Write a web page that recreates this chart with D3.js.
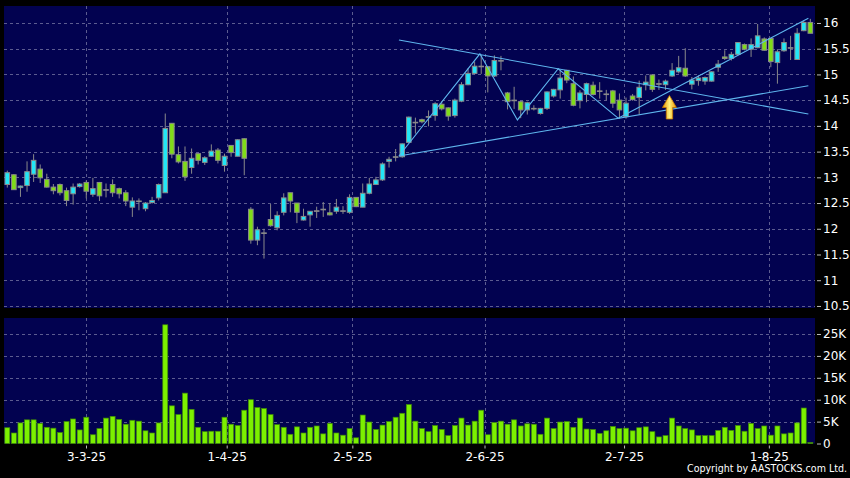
<!DOCTYPE html>
<html><head><meta charset="utf-8">
<script src="https://cdn.jsdelivr.net/npm/d3@7"></script>
<style>body{margin:0;background:#000;} svg{display:block;}</style>
</head><body>
<svg id="c" width="850" height="478"></svg>
<script>
// ---- data (daily candles, oldest first) ----
const openP  = [12.86,13.05,12.80,12.84,13.06,13.16,12.96,12.81,12.86,12.74,12.68,12.82,12.90,12.67,12.90,12.76,12.86,12.78,12.70,12.42,12.54,12.39,12.51,12.60,12.70,14.05,13.44,13.31,13.19,13.46,13.29,13.41,13.53,13.23,13.62,13.41,13.75,12.38,11.78,11.92,12.18,12.02,12.32,12.70,12.50,12.17,12.27,12.35,12.38,12.31,12.34,12.35,12.32,12.61,12.42,12.69,12.86,12.95,13.31,13.40,13.40,13.68,14.07,14.12,14.18,14.20,14.42,14.35,14.20,14.48,14.80,15.02,15.16,15.15,14.97,15.27,14.64,14.50,14.47,14.31,14.34,14.24,14.34,14.58,14.70,15.08,14.82,14.49,14.61,14.79,14.68,14.62,14.68,14.50,14.18,14.58,14.55,14.80,14.99,14.82,14.80,14.97,15.05,15.12,14.81,14.88,14.87,14.87,15.14,15.34,15.31,15.39,15.58,15.49,15.52,15.69,15.70,15.23,15.46,15.52,15.29,15.85,16.01];
const highP  = [13.13,13.06,12.84,13.31,13.45,13.25,13.07,12.87,12.88,12.80,12.88,12.89,12.94,12.99,12.91,12.88,12.96,12.80,12.75,12.61,12.59,12.52,12.62,12.88,14.24,14.05,13.60,13.60,13.56,13.46,13.41,13.64,13.57,13.46,13.62,13.74,13.76,12.42,12.04,12.00,12.48,12.34,12.69,12.70,12.50,12.39,12.34,12.43,12.52,12.50,12.58,12.44,12.67,12.61,12.88,12.99,13.01,13.29,13.40,13.55,13.66,14.18,14.16,14.14,14.30,14.46,14.48,14.36,14.53,14.85,15.12,15.25,15.38,15.15,15.37,15.36,14.66,14.76,14.48,14.47,14.40,14.35,14.67,14.72,15.09,15.09,14.96,14.69,14.84,14.86,14.85,14.70,14.70,14.63,14.55,14.62,14.88,14.98,15.00,14.90,14.90,15.22,15.36,15.51,14.95,14.98,14.96,15.06,15.28,15.47,15.44,15.63,15.60,15.70,15.98,15.72,15.70,15.49,15.70,15.75,15.90,16.05,16.08];
const lowP   = [12.80,12.76,12.62,12.72,12.91,12.89,12.80,12.67,12.65,12.44,12.47,12.80,12.59,12.62,12.54,12.61,12.62,12.59,12.44,12.23,12.36,12.34,12.49,12.55,12.70,13.37,13.27,12.93,13.07,13.25,13.24,13.40,13.27,13.11,13.40,13.41,13.04,11.71,11.68,11.42,12.04,11.97,12.26,12.32,12.11,12.16,12.04,12.21,12.23,12.26,12.29,12.29,12.29,12.42,12.42,12.67,12.85,12.93,13.19,13.31,13.38,13.67,13.85,14.05,13.99,14.10,14.30,14.10,14.16,14.46,14.79,15.00,15.01,14.65,14.95,15.08,14.32,14.33,14.15,14.22,14.30,14.22,14.31,14.55,14.53,14.83,14.38,14.34,14.46,14.59,14.53,14.50,14.35,14.14,14.14,14.49,14.22,14.69,14.66,14.70,14.70,14.95,15.02,14.95,14.71,14.78,14.80,14.86,15.05,15.28,15.27,15.37,15.47,15.34,15.51,15.46,15.14,14.82,15.44,15.28,15.29,15.84,15.80];
const closeP = [13.09,12.76,12.83,13.11,13.33,12.99,12.81,12.74,12.70,12.55,12.81,12.87,12.73,12.78,12.64,12.76,12.70,12.68,12.54,12.54,12.54,12.50,12.55,12.86,13.95,13.45,13.30,13.01,13.37,13.33,13.38,13.51,13.33,13.41,13.48,13.73,13.37,11.78,11.98,11.92,12.06,12.26,12.60,12.54,12.32,12.24,12.34,12.35,12.38,12.27,12.42,12.35,12.61,12.43,12.69,12.87,12.95,13.26,13.35,13.40,13.65,14.17,14.07,14.08,14.18,14.43,14.33,14.19,14.50,14.80,15.02,15.16,15.16,14.97,15.27,15.27,14.47,14.50,14.31,14.45,14.34,14.34,14.66,14.71,14.93,14.89,14.40,14.64,14.82,14.61,14.68,14.62,14.44,14.31,14.44,14.51,14.75,14.85,14.71,14.82,14.87,15.08,15.13,14.97,14.89,14.93,14.94,15.05,15.20,15.31,15.39,15.62,15.49,15.58,15.75,15.47,15.25,15.44,15.62,15.52,15.80,16.01,15.80];
// volume in thousands of shares
const volumeK = [3.6,2.4,4.7,5.4,5.4,4.6,3.7,3.5,2.5,5.0,5.6,3.1,6.0,2.0,3.4,5.8,6.2,5.5,4.4,5.3,5.1,2.9,2.4,4.7,27.1,8.6,6.6,11.5,7.8,3.7,2.7,2.8,2.8,6.0,4.4,4.1,7.6,10.0,8.2,8.0,6.6,4.3,3.7,2.1,3.8,
  2.4,3.7,4.0,2.2,4.6,2.4,1.9,3.4,1.3,6.5,4.9,3.2,4.2,5.0,6.0,6.9,8.9,5.1,3.4,2.7,4.1,3.2,1.8,4.1,5.8,4.2,5.1,7.6,2.0,4.8,5.1,4.4,5.4,4.0,4.5,4.4,2.1,5.8,3.4,4.9,5.0,3.7,5.8,3.3,3.2,2.3,
  2.9,3.9,3.4,3.5,2.9,3.6,3.8,2.7,1.5,1.8,5.8,4.0,3.4,3.1,1.8,1.8,1.8,3.0,3.7,3.0,4.1,2.8,4.6,3.4,4.0,1.9,4.0,2.2,2.4,4.7,8.1,0.2];
// date axis: labels and their position in bar-index units
const dateLabels = ["3-3-25","1-4-25","2-5-25","2-6-25","2-7-25","1-8-25"];
const datePos    = [11.96, 33.33, 52.42, 72.5, 93.7, 115.7];
const priceTicks = [10.5,11,11.5,12,12.5,13,13.5,14,14.5,15,15.5,16];
const volTicks   = [0,5,10,15,20,25];
// drawn trend lines: [bar index, price] pairs
const trendUpper  = [[59.5,15.67],[121.7,14.23]];
const trendLower  = [[59.5,13.415],[121.7,14.78]];
const trendZigzag = [[59.5,13.415],[71.8,15.40],[77.5,14.115],[83.7,15.11],[92.8,14.15]];
const trendRising = [[92.8,14.15],[121.7,16.09]];
const arrowMark = {index:100.6, price:14.59};

// ---- layout ----
const W=850,H=478;
const left=4,right=815,pTop=6,pBot=308,vTop=318,vBot=443.5;
const navy="#020250", grid="#5c5c90";
const FONT="DejaVu Sans, Verdana, sans-serif";
const n=openP.length;
const svg=d3.select('#c');
svg.append('rect').attr('width',W).attr('height',H).attr('fill','#000');

const x=d3.scaleLinear().domain([-0.5,n-0.29]).range([left,right]);
const y=d3.scaleLinear().domain([10.46,16.33]).range([pBot,pTop]);
const yv=d3.scaleLinear().domain([0,28.65]).range([vBot,vTop]);

svg.append('rect').attr('x',left).attr('y',pTop).attr('width',right-left).attr('height',pBot-pTop).attr('fill',navy);
svg.append('rect').attr('x',left).attr('y',vTop).attr('width',right-left).attr('height',vBot-vTop).attr('fill',navy);

const gg=svg.append('g').attr('stroke',grid).attr('stroke-width',1).attr('stroke-dasharray','3,3').attr('fill','none');
priceTicks.forEach(p=>{const yy=Math.round(y(p))+0.5;gg.append('line').attr('x1',left).attr('x2',right).attr('y1',yy).attr('y2',yy);});
volTicks.filter(v=>v>0).forEach(v=>{const yy=Math.round(yv(v))+0.5;gg.append('line').attr('x1',left).attr('x2',right).attr('y1',yy).attr('y2',yy);});
datePos.forEach(d=>{const xx=Math.round(x(d))+0.5;
  gg.append('line').attr('x1',xx).attr('x2',xx).attr('y1',pTop).attr('y2',pBot);
  gg.append('line').attr('x1',xx).attr('x2',xx).attr('y1',vTop).attr('y2',vBot);});

// volume bars
const bw=5.0;
svg.append('g').selectAll('rect').data(volumeK).join('rect')
  .attr('x',(d,i)=>x(i)-bw/2).attr('y',d=>yv(d)).attr('width',bw).attr('height',d=>Math.max(0.8,vBot-yv(d)))
  .attr('fill','#7cf000').attr('stroke','#3f8a08').attr('stroke-width',0.7);

// candles
const cyan="#22e6f6", green="#80dc18", wick="#8a8a8a";
const cg=svg.append('g');
const idx=d3.range(n);
cg.selectAll('line.w').data(idx).join('line').attr('class','w')
  .attr('x1',i=>x(i)).attr('x2',i=>x(i)).attr('y1',i=>y(highP[i])).attr('y2',i=>y(lowP[i]))
  .attr('stroke',wick).attr('stroke-width',1);
const cw=4.6;
cg.selectAll('rect.b').data(idx).join('rect').attr('class','b')
  .attr('x',i=>x(i)-cw/2)
  .attr('y',i=>y(Math.max(openP[i],closeP[i])))
  .attr('width',cw)
  .attr('height',i=>Math.max(0.6,Math.abs(y(openP[i])-y(closeP[i]))))
  .attr('fill',i=>closeP[i]>openP[i]?cyan:(closeP[i]<openP[i]?green:wick))
  .attr('stroke',wick).attr('stroke-width',1);

// trend lines
const line=d3.line().x(d=>x(d[0])).y(d=>y(d[1]));
[trendUpper,trendLower,trendZigzag,trendRising].forEach(t=>{
  svg.append('path').attr('d',line(t)).attr('fill','none').attr('stroke','#5fb6ee').attr('stroke-width',1.1);
});

// arrow
const defs=svg.append('defs');
const lg=defs.append('linearGradient').attr('id','ag').attr('x1','0').attr('x2','1').attr('y1','0').attr('y2','0');
lg.append('stop').attr('offset','0').attr('stop-color','#e89400');
lg.append('stop').attr('offset','0.5').attr('stop-color','#fff07a');
lg.append('stop').attr('offset','1').attr('stop-color','#e89400');
const ax=x(arrowMark.index), ay=y(arrowMark.price);
svg.append('path')
  .attr('d',`M${ax},${ay} L${ax+7},${ay+12} L${ax+3.2},${ay+12} L${ax+3.2},${ay+23.5} L${ax-3.2},${ay+23.5} L${ax-3.2},${ay+12} L${ax-7},${ay+12} Z`)
  .attr('fill','url(#ag)').attr('stroke','#c87800').attr('stroke-width',0.8);

// axes
function styleAxis(g){
  g.select('.domain').remove();
  g.selectAll('.tick line').attr('stroke','#bbbbbb');
  g.selectAll('.tick text').attr('fill','#ffffff').attr('font-family',FONT).attr('font-size',12);
}
svg.append('g').attr('transform',`translate(${right+2},0)`)
  .call(d3.axisRight(y).tickValues(priceTicks).tickSize(4).tickPadding(2).tickFormat(d3.format('~g')))
  .call(styleAxis);
svg.append('g').attr('transform',`translate(${right+2},0)`)
  .call(d3.axisRight(yv).tickValues(volTicks).tickSize(4).tickPadding(2).tickFormat(d=>d===0?'0':d+'K'))
  .call(styleAxis);
svg.append('g').attr('transform',`translate(0,${vBot+2})`)
  .call(d3.axisBottom(x).tickValues(datePos).tickSize(3).tickPadding(4).tickFormat((d,i)=>dateLabels[i]))
  .call(styleAxis);

svg.append('text').attr('x',847).attr('y',472).attr('text-anchor','end')
  .attr('fill','#ffffff').attr('font-family',FONT).attr('font-size',11)
  .attr('textLength',160).attr('lengthAdjust','spacingAndGlyphs')
  .text('Copyright by AASTOCKS.com Ltd.');
</script>
</body></html>
